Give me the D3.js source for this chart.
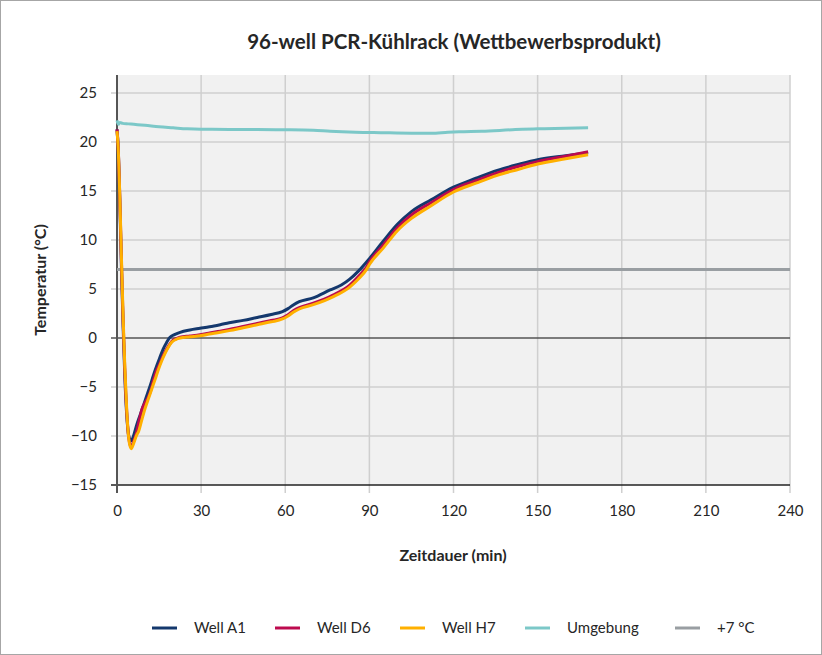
<!DOCTYPE html>
<html>
<head>
<meta charset="utf-8">
<script src="https://cdn.jsdelivr.net/npm/d3@7"></script>
<style>
	body { margin: 0; background: #fff; }
	text { font-family: "Lato", "Noto Sans", sans-serif; fill: #262626; }
</style>
</head>
<body>
<div class="chart"></div>
<script>
	// zeit in minuten
	var timeA1 = [0, 0.4, 1, 1.6, 2.2, 2.8, 3.5, 4.2, 5, 6, 7, 8.2, 9.4, 10.6, 11.8, 13, 14.2, 15.4, 16.5, 17.7, 18.9, 20.5, 22.5, 26, 29.6, 33, 36.8, 40, 45, 50, 55, 59, 61, 63, 65, 70, 76, 80, 83, 86, 90, 95, 100, 105, 112, 120, 128, 135.6, 143, 150, 160, 168];
	var wellA1 = [21.3, 19.5, 14, 7, 1, -4, -8, -10, -10.5, -9.9, -8.9, -7.9, -6.9, -5.9, -4.9, -3.8, -2.8, -1.9, -1.1, -0.45, 0.07, 0.35, 0.58, 0.82, 0.99, 1.15, 1.36, 1.55, 1.8, 2.1, 2.4, 2.7, 3.0, 3.4, 3.7, 4.1, 4.9, 5.4, 6.0, 6.8, 8.1, 9.9, 11.6, 12.9, 14.1, 15.4, 16.3, 17.1, 17.7, 18.2, 18.6, 18.9];

	var timeD6 = [0, 0.4, 1, 1.6, 2.2, 2.8, 3.5, 4.2, 5, 6, 7, 8, 9, 10, 11, 12, 13, 14, 15, 16, 17, 18.3, 19.5, 21, 22.5, 26, 29.6, 33, 36.8, 40, 45, 50, 55, 59, 61, 63, 65, 70, 77, 83, 86, 89, 90, 95, 100, 105, 112, 120, 128, 135.6, 143, 150, 160, 168];
	var wellD6 = [21.3, 19.6, 14.3, 7.6, 1.6, -3.4, -7.7, -10.2, -11.1, -10.5, -9.6, -8.3, -7.2, -6.6, -6.1, -5.4, -4.3, -3.4, -2.8, -2.1, -1.5, -0.85, -0.35, -0.08, 0.08, 0.2, 0.33, 0.5, 0.7, 0.87, 1.17, 1.48, 1.78, 2.05, 2.38, 2.8, 3.1, 3.55, 4.38, 5.4, 6.25, 7.25, 7.75, 9.5, 11.25, 12.55, 13.8, 15.15, 16.05, 16.85, 17.5, 18.0, 18.55, 19.0];

	var timeH7 = [0, 0.4, 1, 1.6, 2.2, 2.8, 3.5, 4.2, 5, 6, 7, 7.6, 8.8, 10, 11.2, 12.4, 13.6, 14.8, 16, 17.1, 18.3, 19.5, 21, 22.5, 26, 29.6, 33, 36.8, 40, 45, 50, 55, 59, 61, 63, 65, 70, 77, 83, 86, 89, 90, 95, 100, 105, 112, 120, 128, 135.6, 143, 150, 160, 168];
	var wellH7 = [21.1, 19.5, 14.5, 8, 2, -3, -7.5, -10.3, -11.3, -10.7, -9.9, -9.6, -8.4, -7.2, -6.2, -5.2, -4.2, -3.2, -2.3, -1.6, -0.95, -0.44, -0.15, 0.0, 0.12, 0.23, 0.4, 0.58, 0.75, 1.05, 1.35, 1.65, 1.94, 2.25, 2.65, 2.96, 3.4, 4.2, 5.2, 6.0, 7.0, 7.5, 9.2, 10.95, 12.2, 13.5, 14.9, 15.8, 16.6, 17.2, 17.75, 18.3, 18.7];

	var timeAmb = [0, 0.5, 1, 2, 4, 6, 10, 15, 20, 25, 30, 40, 50, 60, 70, 76, 85, 94, 105, 112, 118, 122, 130, 141, 150, 160, 168];
	var ambient = [22.2, 21.8, 22.0, 21.9, 21.85, 21.8, 21.7, 21.55, 21.45, 21.35, 21.3, 21.28, 21.27, 21.25, 21.2, 21.1, 21.0, 20.95, 20.9, 20.9, 21.0, 21.05, 21.1, 21.25, 21.35, 21.4, 21.45];

	var limit = 7;

	var xTicks = [0, 30, 60, 90, 120, 150, 180, 210, 240];
	var yTicks = [-15, -10, -5, 0, 5, 10, 15, 20, 25];

	var legendNames = ["Well A1", "Well D6", "Well H7", "Umgebung", "+7 °C"];
	var legendColors = ["#14386d", "#bd0a4e", "#ffb000", "#7cc8c8", "#999ea2"];

	var W = 822, H = 655;
	var plot = {left: 117, right: 790, top: 75, bottom: 485};

	var svg = d3.select(".chart").append("svg")
		.attr("width", W)
		.attr("height", H);

	svg.append("rect")
		.attr("x", 0.5).attr("y", 0.5)
		.attr("width", W - 1).attr("height", H - 1)
		.attr("fill", "#fff")
		.attr("stroke", "#a6a6a6");

	var x = d3.scaleLinear().domain([0, 240]).range([plot.left, plot.right]);
	var y = d3.scaleLinear().domain([-15, 25]).range([plot.bottom, 93]);

	svg.append("rect")
		.attr("x", plot.left).attr("y", plot.top)
		.attr("width", plot.right - plot.left)
		.attr("height", plot.bottom - plot.top)
		.attr("fill", "#f1f1f1");

	// gitter
	svg.append("g").selectAll("line").data(xTicks.slice(1)).enter().append("line")
		.attr("x1", function (d) { return x(d); })
		.attr("x2", function (d) { return x(d); })
		.attr("y1", plot.top).attr("y2", plot.bottom + 8)
		.attr("stroke", "#cfcfcf").attr("stroke-width", 1.5);

	svg.append("g").selectAll("line").data(yTicks.filter(function (d) { return d !== 0 && d !== -15; })).enter().append("line")
		.attr("x1", plot.left - 6).attr("x2", plot.right)
		.attr("y1", function (d) { return y(d); })
		.attr("y2", function (d) { return y(d); })
		.attr("stroke", "#cfcfcf").attr("stroke-width", 1.5);

	// achsen
	var xAxis = d3.axisBottom(x).tickValues(xTicks).tickSize(0).tickPadding(20);
	var yAxis = d3.axisLeft(y).tickValues(yTicks).tickSize(0).tickPadding(20);

	var gx = svg.append("g").attr("transform", "translate(0," + plot.bottom + ")").call(xAxis);
	var gy = svg.append("g").attr("transform", "translate(" + plot.left + ",0)").call(yAxis);
	gx.select(".domain").remove();
	gy.select(".domain").remove();
	gx.selectAll("text").attr("font-size", 15).attr("fill", "#262626").attr("font-family", "Lato, sans-serif");
	gy.selectAll("text").attr("font-size", 15).attr("fill", "#262626").attr("font-family", "Lato, sans-serif");

	svg.append("line")
		.attr("x1", plot.left - 6).attr("x2", plot.right)
		.attr("y1", y(0)).attr("y2", y(0))
		.attr("stroke", "#555").attr("stroke-width", 1.5);

	svg.append("line")
		.attr("x1", plot.left - 6).attr("x2", plot.right)
		.attr("y1", plot.bottom).attr("y2", plot.bottom)
		.attr("stroke", "#222").attr("stroke-width", 1.5);

	svg.append("line")
		.attr("x1", plot.left).attr("x2", plot.left)
		.attr("y1", plot.top).attr("y2", plot.bottom + 8)
		.attr("stroke", "#555").attr("stroke-width", 2);

	// +7 grad linie
	svg.append("line")
		.attr("x1", x(0)).attr("x2", plot.right)
		.attr("y1", y(limit)).attr("y2", y(limit))
		.attr("stroke", legendColors[4]).attr("stroke-width", 3);

	var line = d3.line()
		.x(function (d) { return x(d[0]); })
		.y(function (d) { return y(d[1]); })
		.curve(d3.curveMonotoneX);

	var series = [
		[timeAmb, ambient, legendColors[3]],
		[timeA1, wellA1, legendColors[0]],
		[timeD6, wellD6, legendColors[1]],
		[timeH7, wellH7, legendColors[2]]
	];

	series.forEach(function (s) {
		svg.append("path")
			.datum(d3.zip(s[0], s[1]))
			.attr("d", line)
			.attr("fill", "none")
			.attr("stroke", s[2])
			.attr("stroke-width", 3)
			.attr("stroke-linejoin", "round");
	});

	// titel + achsentitel
	svg.append("text")
		.attr("x", 454).attr("y", 49)
		.attr("text-anchor", "middle")
		.attr("font-size", 20.5).attr("font-weight", "bold")
		.text("96-well PCR-Kühlrack (Wettbewerbsprodukt)");

	svg.append("text")
		.attr("x", 453).attr("y", 561)
		.attr("text-anchor", "middle")
		.attr("font-size", 16).attr("font-weight", "bold")
		.text("Zeitdauer (min)");

	svg.append("text")
		.attr("transform", "translate(46,280) rotate(-90)")
		.attr("text-anchor", "middle")
		.attr("font-size", 16).attr("font-weight", "bold")
		.text("Temperatur (°C)");

	// legende
	var legendX = [152, 275, 400, 525, 675];
	var lg = svg.append("g").selectAll("g").data(legendNames).enter().append("g")
		.attr("transform", function (d, i) { return "translate(" + legendX[i] + ",628)"; });
	lg.append("line")
		.attr("x1", 0).attr("x2", 25)
		.attr("stroke", function (d, i) { return legendColors[i]; })
		.attr("stroke-width", 3);
	lg.append("text")
		.attr("x", 42).attr("dy", "0.35em")
		.attr("font-size", 15)
		.text(function (d) { return d; });
</script>
</body>
</html>
